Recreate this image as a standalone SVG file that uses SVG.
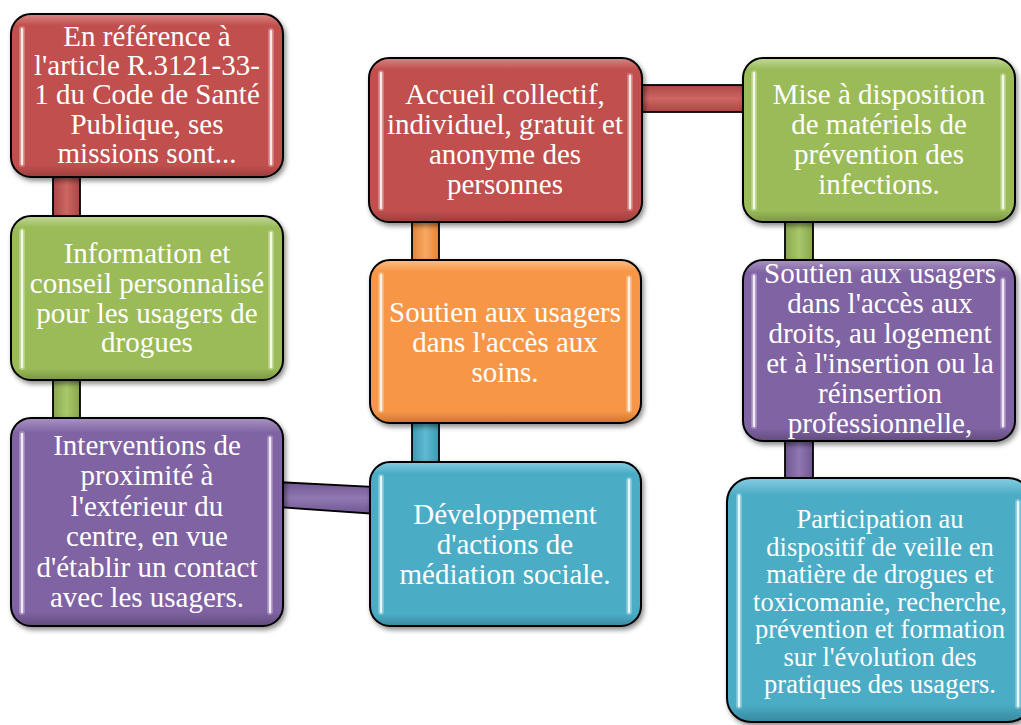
<svg xmlns="http://www.w3.org/2000/svg" width="1021" height="725" viewBox="0 0 1021 725">
<defs>
<style>
.t{font-family:"Liberation Serif","Times New Roman",serif;fill:#fff;text-anchor:middle;font-size:29px}
.ts{font-size:26.5px}
.box{stroke:#000;stroke-width:2;filter:url(#sh)}
.con{stroke:#000;stroke-width:1.8}
.hl{stroke:#fff;stroke-width:2.5;stroke-linecap:round;opacity:.85}
.hlg{stroke-width:6;stroke-linecap:round;opacity:.3}
</style>
<filter id="sh" x="-10%" y="-10%" width="125%" height="125%">
<feDropShadow dx="2" dy="3" stdDeviation="2.5" flood-color="#000" flood-opacity=".45"/>
</filter>
<linearGradient id="gR" x1="0" y1="0" x2="0" y2="1"><stop offset="0" stop-color="#d98583"/><stop offset=".07" stop-color="#c0504d"/><stop offset=".93" stop-color="#c0504d"/><stop offset="1" stop-color="#9a3e3c"/></linearGradient>
<linearGradient id="gG" x1="0" y1="0" x2="0" y2="1"><stop offset="0" stop-color="#c3d89a"/><stop offset=".07" stop-color="#9bbb59"/><stop offset=".93" stop-color="#9bbb59"/><stop offset="1" stop-color="#7a9544"/></linearGradient>
<linearGradient id="gP" x1="0" y1="0" x2="0" y2="1"><stop offset="0" stop-color="#a994c4"/><stop offset=".07" stop-color="#8064a2"/><stop offset=".93" stop-color="#8064a2"/><stop offset="1" stop-color="#624b7e"/></linearGradient>
<linearGradient id="gT" x1="0" y1="0" x2="0" y2="1"><stop offset="0" stop-color="#86cde0"/><stop offset=".07" stop-color="#4bacc6"/><stop offset=".93" stop-color="#4bacc6"/><stop offset="1" stop-color="#37889e"/></linearGradient>
<linearGradient id="gO" x1="0" y1="0" x2="0" y2="1"><stop offset="0" stop-color="#fbbf8c"/><stop offset=".07" stop-color="#f79646"/><stop offset=".93" stop-color="#f79646"/><stop offset="1" stop-color="#c97630"/></linearGradient>
<linearGradient id="cR" x1="0" y1="0" x2="1" y2="0"><stop offset="0" stop-color="#a94643"/><stop offset=".5" stop-color="#cd6663"/><stop offset="1" stop-color="#a94643"/></linearGradient>
<linearGradient id="cRh" x1="0" y1="0" x2="0" y2="1"><stop offset="0" stop-color="#a94643"/><stop offset=".5" stop-color="#cd6663"/><stop offset="1" stop-color="#a94643"/></linearGradient>
<linearGradient id="cG" x1="0" y1="0" x2="1" y2="0"><stop offset="0" stop-color="#89a64e"/><stop offset=".5" stop-color="#a9c86a"/><stop offset="1" stop-color="#89a64e"/></linearGradient>
<linearGradient id="cP" x1="0" y1="0" x2="1" y2="0"><stop offset="0" stop-color="#6f5690"/><stop offset=".5" stop-color="#9078b2"/><stop offset="1" stop-color="#6f5690"/></linearGradient>
<linearGradient id="cPh" x1="0" y1="0" x2="0" y2="1"><stop offset="0" stop-color="#6f5690"/><stop offset=".5" stop-color="#9078b2"/><stop offset="1" stop-color="#6f5690"/></linearGradient>
<linearGradient id="cT" x1="0" y1="0" x2="1" y2="0"><stop offset="0" stop-color="#3f98b0"/><stop offset=".5" stop-color="#5dbbd3"/><stop offset="1" stop-color="#3f98b0"/></linearGradient>
<linearGradient id="cO" x1="0" y1="0" x2="1" y2="0"><stop offset="0" stop-color="#e0843a"/><stop offset=".5" stop-color="#f9a862"/><stop offset="1" stop-color="#e0843a"/></linearGradient>
</defs>
<rect width="1021" height="725" fill="#fff"/>
<g id="connectors">
<rect class="con" x="53" y="170" width="27" height="55" fill="url(#cR)"/>
<rect class="con" x="53" y="372" width="27" height="55" fill="url(#cG)"/>
<polygon class="con" points="276,482 377,487 377,514 276,507" fill="url(#cPh)"/>
<rect class="con" x="412" y="215" width="27" height="52" fill="url(#cO)"/>
<rect class="con" x="412" y="416" width="27" height="53" fill="url(#cT)"/>
<rect class="con" x="636" y="85" width="114" height="27" fill="url(#cRh)"/>
<rect class="con" x="785" y="215" width="28" height="52" fill="url(#cG)"/>
<rect class="con" x="785" y="435" width="28" height="50" fill="url(#cP)"/>
</g>
<g id="n1">
<rect class="box" x="11" y="14" width="272" height="163" rx="20" fill="url(#gR)"/>
<line class="hlg" x1="22" y1="29" x2="22" y2="164" stroke="#ffdede"/><line class="hl" x1="22" y1="29" x2="22" y2="164"/>
<line class="hlg" x1="271" y1="31" x2="271" y2="164" stroke="#ffdede"/><line class="hl" x1="271" y1="31" x2="271" y2="164"/>
<text class="t" x="147"><tspan x="147" y="46">En référence à</tspan><tspan x="147" y="75">l'article R.3121-33-</tspan><tspan x="147" y="104">1 du Code de Santé</tspan><tspan x="147" y="134">Publique, ses</tspan><tspan x="147" y="163">missions sont...</tspan></text>
</g>
<g id="n2">
<rect class="box" x="11" y="216" width="272" height="164" rx="20" fill="url(#gG)"/>
<line class="hlg" x1="22" y1="231" x2="22" y2="367" stroke="#f0ffd8"/><line class="hl" x1="22" y1="231" x2="22" y2="367"/>
<line class="hlg" x1="271" y1="233" x2="271" y2="367" stroke="#f0ffd8"/><line class="hl" x1="271" y1="233" x2="271" y2="367"/>
<text class="t"><tspan x="147" y="263">Information et</tspan><tspan x="147" y="293">conseil personnalisé</tspan><tspan x="147" y="323">pour les usagers de</tspan><tspan x="147" y="352">drogues</tspan></text>
</g>
<g id="n3">
<rect class="box" x="11" y="418" width="272" height="208" rx="20" fill="url(#gP)"/>
<line class="hlg" x1="22" y1="434" x2="22" y2="612" stroke="#f0e0ff"/><line class="hl" x1="22" y1="434" x2="22" y2="612"/>
<line class="hlg" x1="270" y1="438" x2="270" y2="612" stroke="#f0e0ff"/><line class="hl" x1="270" y1="438" x2="270" y2="612"/>
<text class="t"><tspan x="147" y="455">Interventions de</tspan><tspan x="147" y="485">proximité à</tspan><tspan x="147" y="516">l'extérieur du</tspan><tspan x="147" y="546">centre, en vue</tspan><tspan x="147" y="577">d'établir un contact</tspan><tspan x="147" y="607">avec les usagers.</tspan></text>
</g>
<g id="n4">
<rect class="box" x="369" y="58" width="273" height="164" rx="20" fill="url(#gR)"/>
<line class="hlg" x1="381" y1="73" x2="381" y2="208" stroke="#ffdede"/><line class="hl" x1="381" y1="73" x2="381" y2="208"/>
<line class="hlg" x1="630" y1="76" x2="630" y2="208" stroke="#ffdede"/><line class="hl" x1="630" y1="76" x2="630" y2="208"/>
<text class="t"><tspan x="505" y="104">Accueil collectif,</tspan><tspan x="505" y="134">individuel, gratuit et</tspan><tspan x="505" y="164">anonyme des</tspan><tspan x="505" y="194">personnes</tspan></text>
</g>
<g id="n5">
<rect class="box" x="370" y="260" width="271" height="163" rx="20" fill="url(#gO)"/>
<line class="hlg" x1="381" y1="275" x2="381" y2="410" stroke="#fff0e0"/><line class="hl" x1="381" y1="275" x2="381" y2="410"/>
<line class="hlg" x1="629" y1="278" x2="629" y2="410" stroke="#fff0e0"/><line class="hl" x1="629" y1="278" x2="629" y2="410"/>
<text class="t"><tspan x="505" y="322">Soutien aux usagers</tspan><tspan x="505" y="352">dans l'accès aux</tspan><tspan x="505" y="382">soins.</tspan></text>
</g>
<g id="n6">
<rect class="box" x="370" y="462" width="271" height="164" rx="20" fill="url(#gT)"/>
<line class="hlg" x1="381" y1="477" x2="381" y2="612" stroke="#e0faff"/><line class="hl" x1="381" y1="477" x2="381" y2="612"/>
<line class="hlg" x1="629" y1="480" x2="629" y2="612" stroke="#e0faff"/><line class="hl" x1="629" y1="480" x2="629" y2="612"/>
<text class="t"><tspan x="505" y="524">Développement</tspan><tspan x="505" y="554">d'actions de</tspan><tspan x="505" y="584">médiation sociale.</tspan></text>
</g>
<g id="n7">
<rect class="box" x="743" y="58" width="272" height="164" rx="20" fill="url(#gG)"/>
<line class="hlg" x1="754" y1="73" x2="754" y2="208" stroke="#f0ffd8"/><line class="hl" x1="754" y1="73" x2="754" y2="208"/>
<line class="hlg" x1="1003" y1="76" x2="1003" y2="208" stroke="#f0ffd8"/><line class="hl" x1="1003" y1="76" x2="1003" y2="208"/>
<text class="t"><tspan x="879" y="104">Mise à disposition</tspan><tspan x="879" y="134">de matériels de</tspan><tspan x="879" y="164">prévention des</tspan><tspan x="879" y="194">infections.</tspan></text>
</g>
<g id="n8">
<rect class="box" x="743" y="260" width="272" height="181" rx="20" fill="url(#gP)"/>
<line class="hlg" x1="754" y1="276" x2="754" y2="426" stroke="#f0e0ff"/><line class="hl" x1="754" y1="276" x2="754" y2="426"/>
<line class="hlg" x1="1003" y1="280" x2="1003" y2="426" stroke="#f0e0ff"/><line class="hl" x1="1003" y1="280" x2="1003" y2="426"/>
<text class="t"><tspan x="880" y="283">Soutien aux usagers</tspan><tspan x="880" y="313">dans l'accès aux</tspan><tspan x="880" y="343">droits, au logement</tspan><tspan x="880" y="373">et à l'insertion ou la</tspan><tspan x="880" y="403">réinsertion</tspan><tspan x="880" y="433">professionnelle,</tspan></text>
</g>
<g id="n9">
<rect class="box" x="727" y="478" width="305" height="244" rx="24" fill="url(#gT)"/>
<line class="hlg" x1="739" y1="496" x2="739" y2="706" stroke="#e0faff"/><line class="hl" x1="739" y1="496" x2="739" y2="706"/>
<line class="hlg" x1="1018" y1="502" x2="1018" y2="706" stroke="#e0faff"/><line class="hl" x1="1018" y1="502" x2="1018" y2="706"/>
<text class="t ts"><tspan x="880" y="528">Participation au</tspan><tspan x="880" y="555.5">dispositif de veille en</tspan><tspan x="880" y="583">matière de drogues et</tspan><tspan x="880" y="610.5">toxicomanie, recherche,</tspan><tspan x="880" y="638">prévention et formation</tspan><tspan x="880" y="665.5">sur l'évolution des</tspan><tspan x="880" y="693">pratiques des usagers.</tspan></text>
</g>
</svg>
